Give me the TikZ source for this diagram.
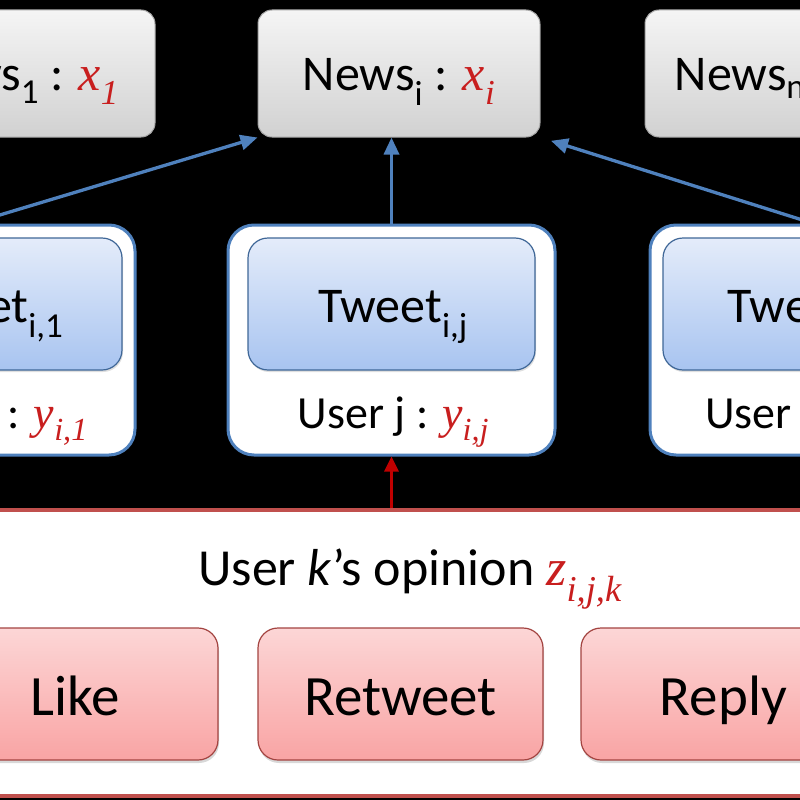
\documentclass[tikz,border=0pt]{standalone}
\usepackage{fontspec}
\setmainfont{Carlito}
\newfontfamily\mvfont{Liberation Serif}
\newcommand{\mvar}[2]{\textcolor{mred}{\mvfont\itshape #1\textsubscript{#2}}}
\usetikzlibrary{arrows.meta,shadows}
\definecolor{accblue}{HTML}{4F81BD}
\definecolor{mred}{HTML}{C81E1E}
\definecolor{arrred}{HTML}{C00000}
\definecolor{boxred}{HTML}{C0504D}
\definecolor{intop}{RGB}{228,236,250}
\definecolor{inbot}{RGB}{168,196,240}
\definecolor{btntop}{RGB}{252,214,214}
\definecolor{btnbot}{RGB}{249,164,164}
\begin{document}
\begin{tikzpicture}[x=1pt,y=-1pt,
  newsbox/.style={draw=black!35, line width=1pt, rounded corners=14pt,
    top color=black!4, bottom color=black!18, minimum width=282pt, minimum height=127pt, inner sep=0pt},
  outerbox/.style={draw=accblue, line width=3pt, rounded corners=26pt,
    fill=white, minimum width=327pt, minimum height=230pt, inner sep=0pt},
  innerbox/.style={draw=accblue!80!black, line width=1.2pt, rounded corners=20pt,
    top color=intop, bottom color=inbot, minimum width=287pt, minimum height=132pt, inner sep=0pt,
    drop shadow={opacity=0.25, shadow xshift=1pt, shadow yshift=-2pt}},
  opbox/.style={draw=boxred, line width=4pt, fill=white, minimum width=900pt, minimum height=286pt, inner sep=0pt},
  btnbox/.style={draw=boxred!85!black, line width=1.2pt, rounded corners=20pt,
    top color=btntop, bottom color=btnbot, minimum width=285pt, minimum height=132pt, inner sep=0pt,
    drop shadow={opacity=0.3, shadow xshift=1pt, shadow yshift=-3pt}},
  bigtxt/.style={anchor=base, inner sep=0pt, font=\fontsize{50}{60}\selectfont},
  usertxt/.style={anchor=base, inner sep=0pt, font=\fontsize{46}{55}\selectfont},
  btntxt/.style={anchor=base, inner sep=0pt, font=\fontsize{57}{68}\selectfont},
  bluearrow/.style={draw=accblue, line width=3.3pt, -{Triangle[length=17pt,width=15pt]}},
  redarrow/.style={draw=arrred, line width=3pt, -{Triangle[length=15pt,width=14pt]}}
]
\useasboundingbox (0,0) rectangle (800,800);
\clip (0,0) rectangle (800,800);
\fill[black] (0,0) rectangle (800,800);

% News boxes
\node[newsbox] (news1) at (14,73.5) {};
\node[newsbox] (newsi) at (399,73.5) {};
\node[newsbox] (newsn) at (786,73.5) {};
\node[bigtxt] (news1t) at (14,90) {News\textsubscript{1} : \mvar{x}{1}};
\node[bigtxt] (newsit) at (399,90) {News\textsubscript{i} : \mvar{x}{i}};
\node[bigtxt] (newsnt) at (780,90) {News\textsubscript{n} : \mvar{x}{n}};

% Tweet groups
\node[outerbox] (tw1) at (-28.5,340) {};
\node[outerbox] (twj) at (391.5,340) {};
\node[outerbox] (twm) at (813.5,340) {};
\node[innerbox] (in1) at (-21.5,304) {};
\node[innerbox] (inj) at (391.5,304) {};
\node[innerbox] (inm) at (806.5,304) {};
\node[bigtxt] (in1t) at (-16,322) {Tweet\textsubscript{i,1}};
\node[bigtxt] (injt) at (393,322) {Tweet\textsubscript{i,j}};
\node[bigtxt] (inmt) at (812,322) {Tweet\textsubscript{i,m}};
\node[usertxt] (u1) at (-17.5,428) {User 1 : \mvar{y}{i,1}};
\node[usertxt] (uj) at (393.5,428) {User j : \mvar{y}{i,j}};
\node[usertxt] (um) at (821,428) {User m : \mvar{y}{i,m}};

% Opinion box
\node[opbox] (op) at (400,653) {};
\node[bigtxt, font=\fontsize{52}{62}\selectfont] (opt) at (410,585) {User \textit{k}’s opinion \mvar{z}{i,j,k}};
\node[btnbox] (like) at (75.5,694) {};
\node[btnbox] (rt) at (400.5,694) {};
\node[btnbox] (reply) at (723.5,694) {};
\node[btntxt] (liket) at (75.5,715) {Like};
\node[btntxt] (rtt) at (400.5,715) {Retweet};
\node[btntxt] (replyt) at (723.5,715) {Reply};

% Connectors
\draw[bluearrow] (tw1.north) -- (newsi.south west);
\draw[bluearrow] (twj.north) -- (twj.north |- newsi.south);
\draw[bluearrow, shorten >=11pt] (twm.north) -- (newsi.south east);
\draw[redarrow] (op.north -| twj.south) -- (twj.south);
\end{tikzpicture}
\end{document}
